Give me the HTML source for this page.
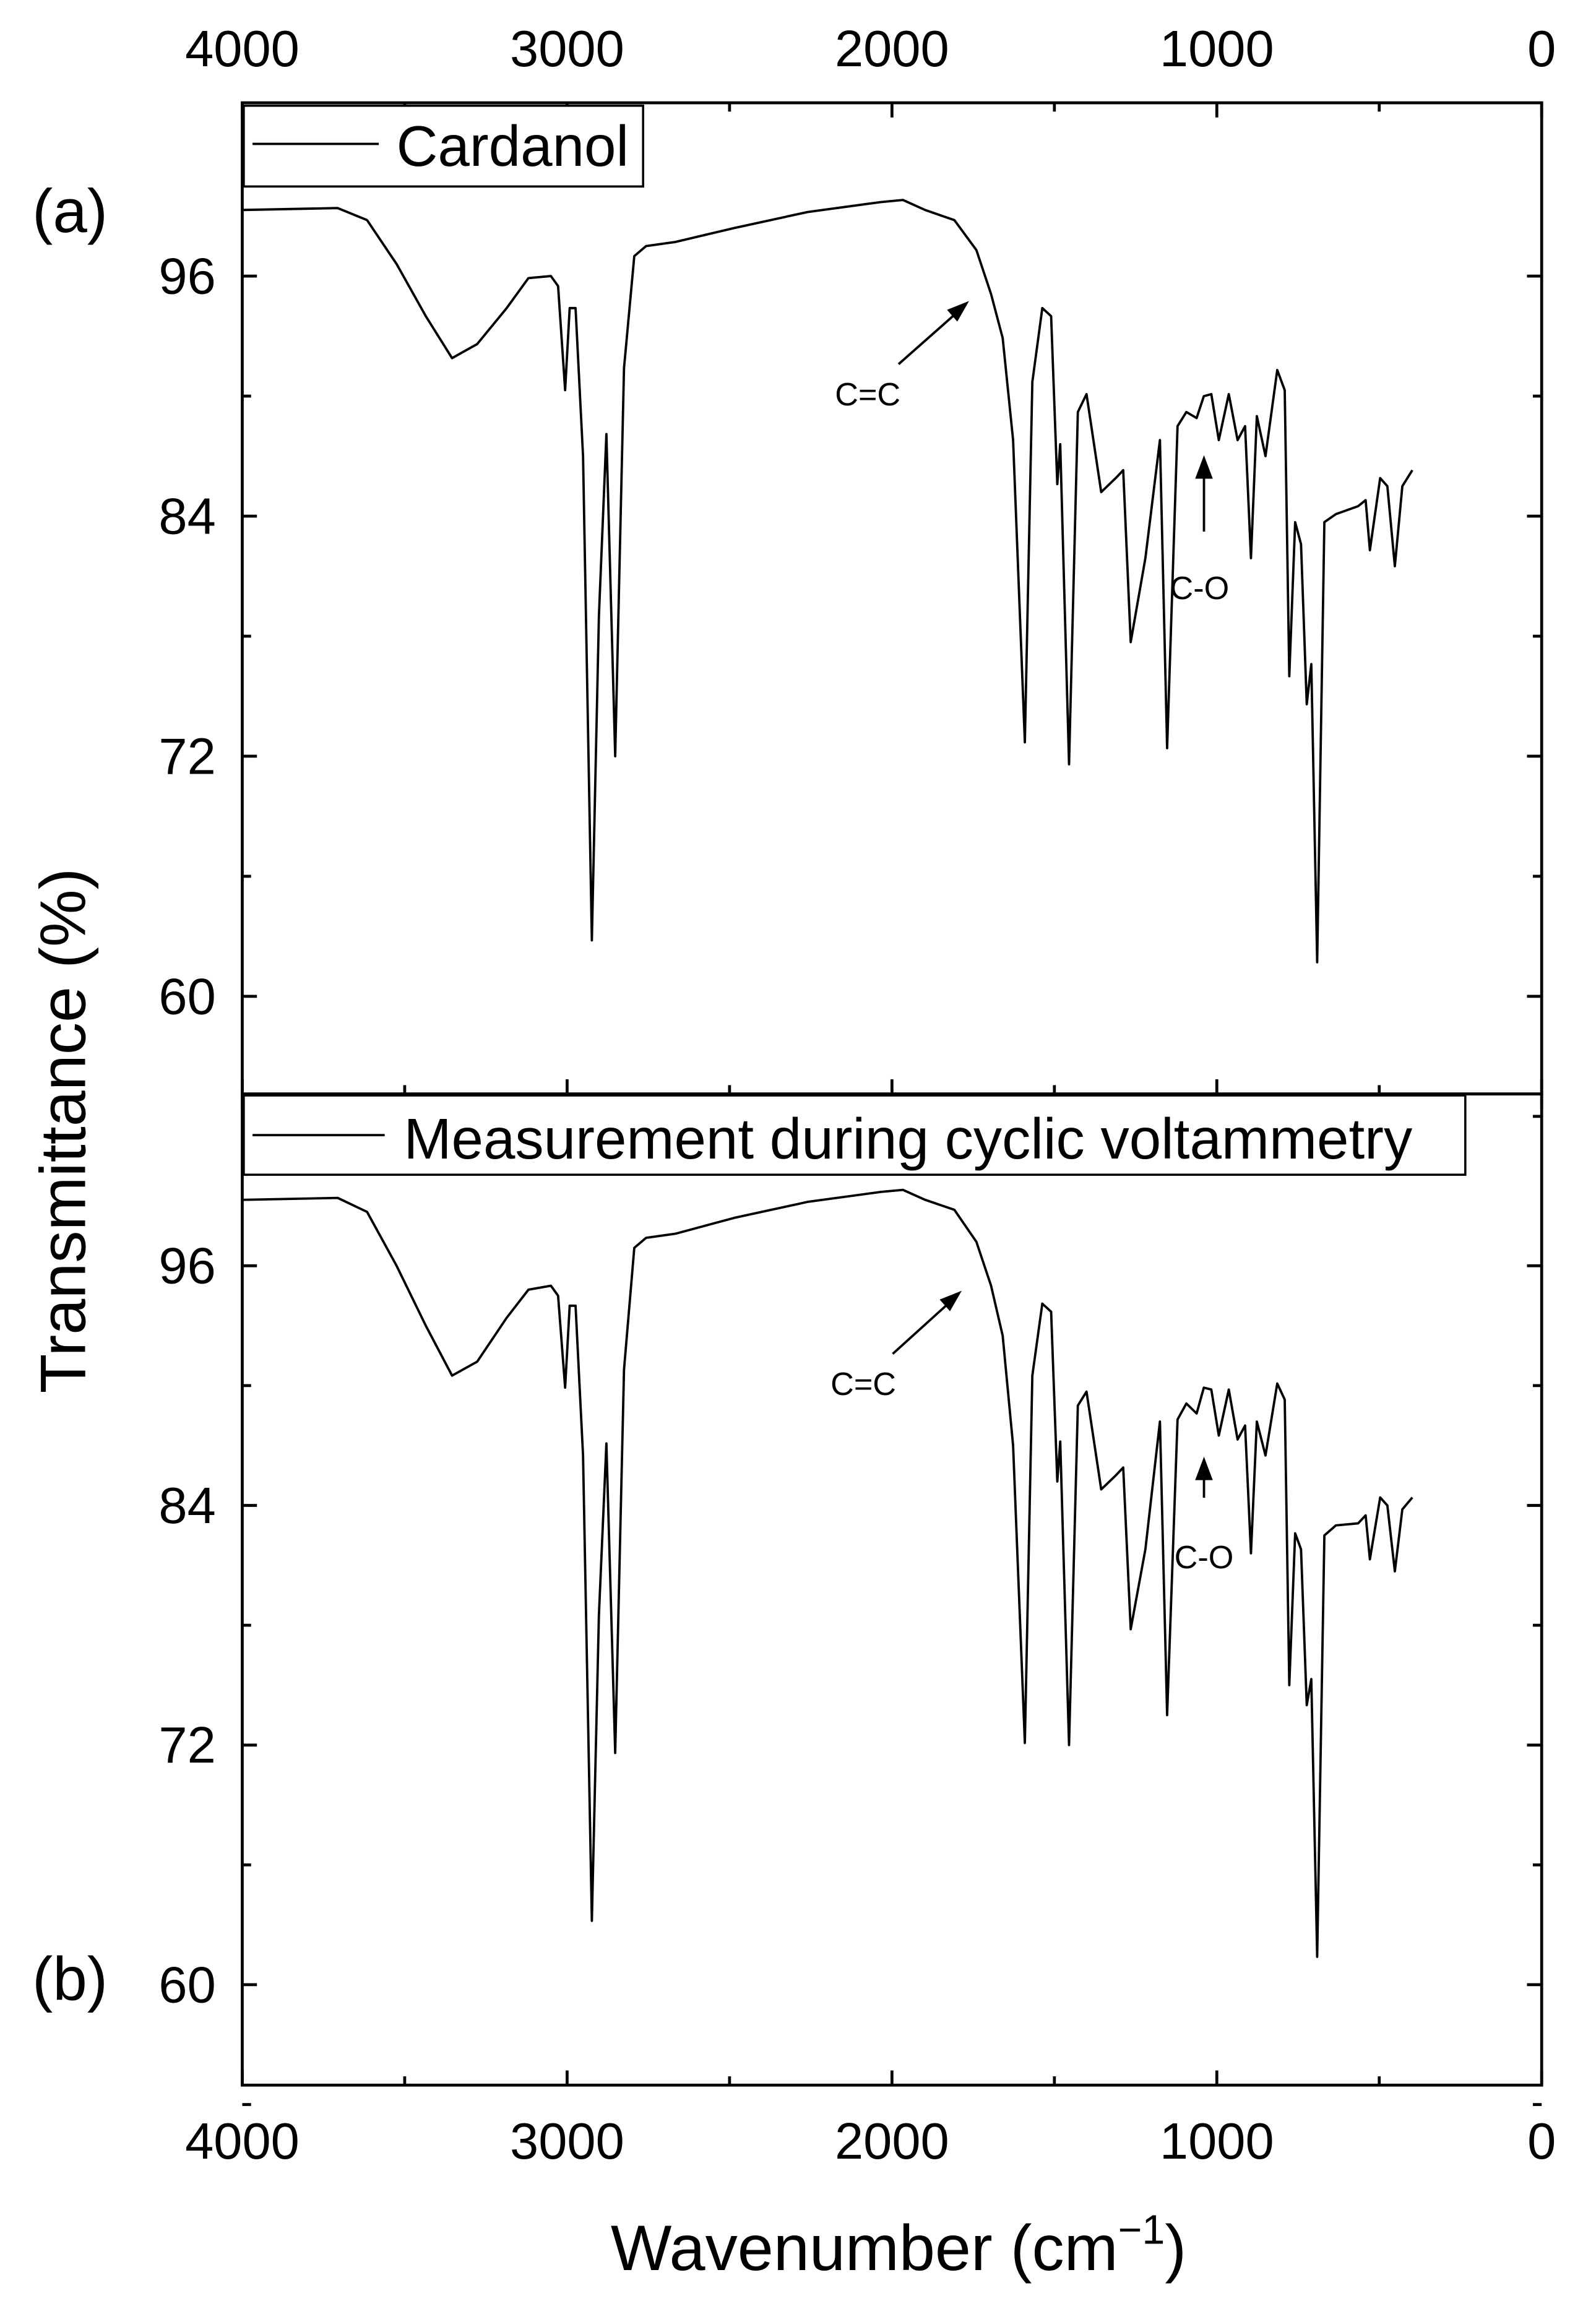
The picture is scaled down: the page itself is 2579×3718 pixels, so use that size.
<!DOCTYPE html>
<html><head><meta charset="utf-8"><style>
html,body{margin:0;padding:0;background:#fff;overflow:hidden;}
svg{display:block;font-family:"Liberation Sans",Arial,sans-serif;}
</style></head><body>
<svg id="chart" width="2579" height="3718" viewBox="0 0 1087 1567" preserveAspectRatio="none" xmlns="http://www.w3.org/2000/svg">
<g id="axes"></g>
<g id="series"></g>
</svg>
<script>
const xTicks=[4000,3000,2000,1000,0];
const yTicks=[96,84,72,60];
const wnA=[4000,3706,3616,3525,3435,3354,3277,3186,3119,3050,3028,3006,2992,2974,2951,2924,2902,2879,2852,2825,2793,2757,2667,2486,2260,2034,1966,1898,1808,1740,1695,1659,1627,1591,1568,1537,1510,1491,1482,1455,1428,1401,1356,1311,1288,1265,1220,1175,1153,1121,1094,1062,1040,1017,994,963,936,913,895,877,850,814,791,777,759,741,723,709,691,669,633,565,542,529,497,475,452,429,398];
const tA=[99.3,99.4,98.8,96.6,94.0,91.9,92.6,94.4,95.9,96.0,95.5,90.3,94.4,94.4,87.0,62.8,79.0,88.1,72.0,91.4,97.0,97.5,97.7,98.4,99.2,99.7,99.8,99.3,98.8,97.3,95.1,92.9,87.8,72.7,90.7,94.4,94.0,85.6,87.6,71.6,89.2,90.1,85.2,85.9,86.3,77.7,81.9,87.8,72.4,88.5,89.2,88.9,90.0,90.1,87.8,90.1,87.8,88.5,81.9,89.0,87.0,91.3,90.3,76.0,83.7,82.6,74.6,76.6,61.7,83.7,84.1,84.5,84.8,82.3,85.9,85.5,81.5,85.5,86.3];
const wnB=wnA;
const tB=[99.3,99.4,98.7,96.0,93.0,90.5,91.2,93.4,94.8,95.0,94.5,89.9,94.0,94.0,86.5,63.2,78.5,87.1,71.6,90.8,96.9,97.4,97.6,98.4,99.2,99.7,99.8,99.3,98.8,97.2,95.0,92.5,87.0,72.1,90.5,94.1,93.7,85.2,87.2,72.0,89.0,89.7,84.8,85.5,85.9,77.8,81.8,88.2,73.5,88.3,89.1,88.6,89.9,89.8,87.5,89.8,87.3,88.0,81.6,88.2,86.5,90.1,89.3,75.0,82.6,81.8,74.0,75.3,61.4,82.5,83.0,83.1,83.5,81.3,84.4,84.0,80.7,83.8,84.4];
const NS="http://www.w3.org/2000/svg";
function xS(w){return 165+(4000-w)*0.22125;}
function yA(t){return 188+(96-t)*13.625;}
function yB(t){return 862+(96-t)*13.6;}
function mk(tag,attrs,parent,text){const e=document.createElementNS(NS,tag);for(const k in attrs)e.setAttribute(k,attrs[k]);if(text!==undefined)e.textContent=text;parent.appendChild(e);return e;}
const axes=document.getElementById('axes');
const panels=[{top:70,bot:745,y:yA,nm:'top'},{top:745,bot:1420,y:yB,nm:'bottom'}];
panels.forEach(p=>{
  const r=mk('rect',{x:165,y:p.top,width:885,height:p.bot-p.top,fill:'none',stroke:'#000','stroke-width':2},axes);
  
  
  yTicks.forEach(t=>{const yy=p.y(t);
    mk('line',{x1:165,x2:175,y1:yy,y2:yy,stroke:'#000','stroke-width':2},axes);
    mk('line',{x1:1040,x2:1050,y1:yy,y2:yy,stroke:'#000','stroke-width':2},axes);
    const tl=mk('text',{x:147,y:yy+12,'font-size':35,'text-anchor':'end'},axes,String(t));
    
    
  });
  yTicks.forEach(t=>{const yy=p.y(t-6);
    mk('line',{x1:165,x2:171,y1:yy,y2:yy,stroke:'#000','stroke-width':2},axes);
    mk('line',{x1:1044,x2:1050,y1:yy,y2:yy,stroke:'#000','stroke-width':2},axes);});
  xTicks.forEach(w=>{const xx=xS(w);
    mk('line',{x1:xx,x2:xx,y1:p.top,y2:p.top+10,stroke:'#000','stroke-width':2},axes);
    mk('line',{x1:xx,x2:xx,y1:p.bot-10,y2:p.bot,stroke:'#000','stroke-width':2},axes);
    if(w>0){const xm=xS(w-500);
      mk('line',{x1:xm,x2:xm,y1:p.top,y2:p.top+6,stroke:'#000','stroke-width':2},axes);
      mk('line',{x1:xm,x2:xm,y1:p.bot-6,y2:p.bot,stroke:'#000','stroke-width':2},axes);}
  });
});
xTicks.forEach(w=>{
  const a=mk('text',{x:xS(w),y:45,'font-size':35,'text-anchor':'middle'},axes,String(w));
  
  
  const b=mk('text',{x:xS(w),y:1470,'font-size':35,'text-anchor':'middle'},axes,String(w));
  
  
});
const ser=document.getElementById('series');
function path(ws,ts,yf,name){let d='';ws.forEach((w,i)=>{d+=(i?'L':'M')+xS(w).toFixed(1)+','+yf(ts[i]).toFixed(1);});
  const e=mk('path',{d:d,fill:'none',stroke:'#000','stroke-width':1.6,'stroke-linejoin':'round'},ser);
  
  }
path(wnA,tA,yA,'cardanol-spectrum');
path(wnB,tB,yB,'cv-measurement-spectrum');
</script>
<svg style="position:absolute;left:0;top:0" width="2579" height="3718" viewBox="0 0 1087 1567" preserveAspectRatio="none" xmlns="http://www.w3.org/2000/svg" font-family="Liberation Sans, Arial, sans-serif">
<g>
<rect x="166" y="72" width="272" height="55" fill="#fff" stroke="#000" stroke-width="1.5"/>
<line x1="172" x2="258" y1="98" y2="98" stroke="#000" stroke-width="1.6"/>
<text x="270" y="113" font-size="39">Cardanol</text>
</g>
<g>
<rect x="166" y="746" width="832" height="54" fill="#fff" stroke="#000" stroke-width="1.5"/>
<line x1="172" x2="262" y1="773" y2="773" stroke="#000" stroke-width="1.6"/>
<text x="275" y="789" font-size="39">Measurement during cyclic voltammetry</text>
</g>
<text x="22" y="158" font-size="42">(a)</text>
<text x="22" y="1362" font-size="42">(b)</text>
<text x="591" y="276" font-size="22" text-anchor="middle">C=C</text>
<line x1="612" y1="248" x2="655" y2="210" stroke="#000" stroke-width="1.6"/>
<polygon points="660,205 645,211 652,219" fill="#000"/>
<text x="817" y="408" font-size="22" text-anchor="middle">C-O</text>
<line x1="820" y1="362" x2="820" y2="322" stroke="#000" stroke-width="1.6"/>
<polygon points="820,310 814,326 826,326" fill="#000"/>
<text x="588" y="950" font-size="22" text-anchor="middle">C=C</text>
<line x1="608" y1="922" x2="650" y2="884" stroke="#000" stroke-width="1.6"/>
<polygon points="655,879 640,885 647,893" fill="#000"/>
<text x="820" y="1068" font-size="22" text-anchor="middle">C-O</text>
<line x1="820" y1="1020" x2="820" y2="1004" stroke="#000" stroke-width="1.6"/>
<polygon points="820,992 814,1008 826,1008" fill="#000"/>
<text x="612" y="1546" font-size="44" text-anchor="middle">Wavenumber (cm<tspan dy="-18" font-size="28">−1</tspan><tspan dy="18">)</tspan></text>
<text transform="translate(58,770) rotate(-90)" font-size="44" text-anchor="middle">Transmittance (%)</text>
</svg>
</body></html>
